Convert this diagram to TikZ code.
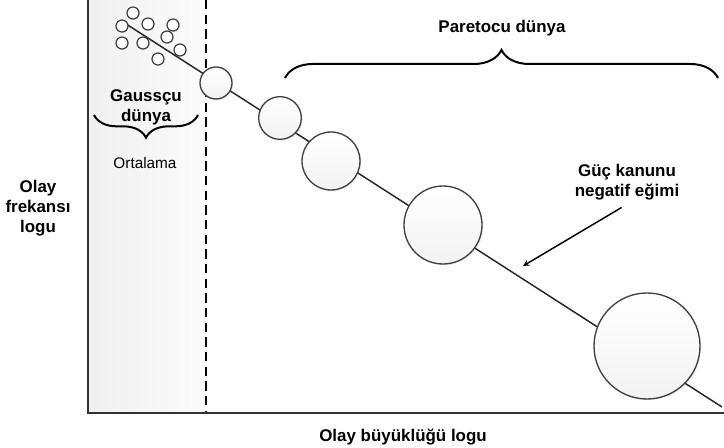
\documentclass[tikz,border=0pt]{standalone}
\usepackage{fontspec}
\setmainfont{Liberation Sans}
\usetikzlibrary{positioning,decorations.pathreplacing,shadows}

\tikzstyle{ball} = [circle, draw=black!75, line width=1pt, inner sep=0pt, top color=white, bottom color=gray!10, drop shadow={opacity=0.15, shadow xshift=1pt, shadow yshift=-1pt}]
\tikzstyle{dot} = [circle, draw=black!75, line width=0.9pt, inner sep=0pt, minimum size=9pt, fill=white, drop shadow={opacity=0.15, shadow xshift=0.6pt, shadow yshift=-0.6pt}]
\tikzstyle{lbl} = [align=center, font=\fontsize{12.7}{15}\selectfont\bfseries]
\tikzstyle{arrow} = [line width=1.1pt,->,>=stealth]
\tikzstyle{brc} = [line width=1.5pt, decorate]

\begin{document}
\begin{tikzpicture}[x=0.75pt,y=-0.75pt,semithick]
    \useasboundingbox (0,0) rectangle (724,448);
    % Gaussian zone
    \shade[left color=gray!12, right color=gray!3] (88,0) rectangle (206,413);
    \draw[line width=1.2pt, dash pattern=on 7pt off 4pt] (206,0) -- (206,413);
    % axes
    \coordinate (ytop) at (88,0);
    \coordinate (O) at (88,413);
    \coordinate (xend) at (724,413);
    \draw[line width=1.5pt, black!80] (ytop) -- (O) -- (xend);
    % slope line
    \coordinate (start) at (123,22);
    \coordinate (stop) at (722,407);
    \draw[line width=1.1pt, black!85] (start) -- (stop);
    % small events
    \foreach \x/\y [count=\i] in {133/13, 122/26, 148/24, 173/25, 167/37, 122/43, 143/43, 180/50, 158/59}
        \node[dot] (d\i) at (\x,\y) {};
    % large events
    \node[ball, minimum size=24pt] (b1) at (216,83) {};
    \node[ball, minimum size=32pt] (b2) at (280,118) {};
    \node[ball, minimum size=43.5pt] (b3) at (331,161) {};
    \node[ball, minimum size=58.5pt] (b4) at (443,225) {};
    \node[ball, minimum size=79.5pt] (b5) at (647,346) {};
    % labels
    \node[lbl] (gauss) at (146,107) {Gaussçu\\dünya};
    \node[align=center, font=\fontsize{11.5}{14}\selectfont] (ort) at (145,163) {Ortalama};
    \node[lbl] (pareto) at (502,28) {Paretocu dünya};
    \node[lbl] (guc) at (627,182) {Güç kanunu\\negatif eğimi};
    \node[lbl] (ylab) at (38,208) {Olay\\frekansı\\logu};
    \node[lbl] (xlab) at (403,437) {Olay büyüklüğü logu};
    % braces
    \draw[brc, decoration={brace, amplitude=17pt}] (198,115) -- (94,115);
    \draw[brc, decoration={brace, amplitude=21pt}] (285,78) -- (718,78);
    % arrow to the slope
    \coordinate (slope) at (523,266);
    \draw [arrow] ([xshift=-4pt,yshift=-2pt]guc.south) -- (slope);
\end{tikzpicture}
\end{document}
